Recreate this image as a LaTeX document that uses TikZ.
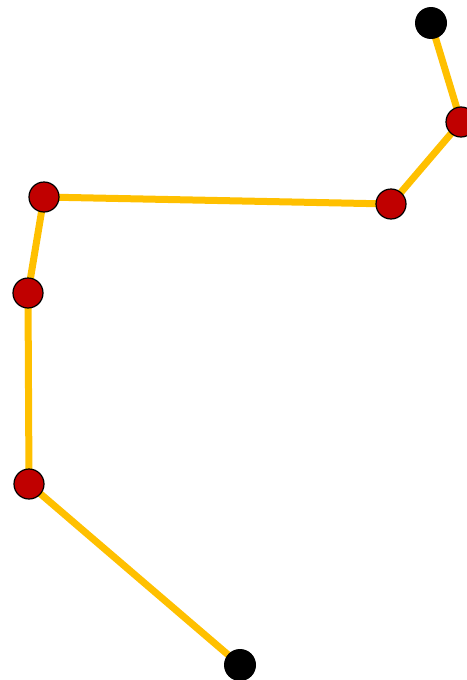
\documentclass[tikz,border=0pt]{standalone}
\usepackage{tikz}
\usetikzlibrary{backgrounds}
\definecolor{pathyellow}{HTML}{FFC000}
\definecolor{stopred}{HTML}{C00000}

\begin{document}
\begin{tikzpicture}[
    x=1pt, y=-1pt,
    endpoint/.style={circle, fill=black, minimum size=32pt, inner sep=0pt},
    waypoint/.style={circle, draw=black, line width=1.2pt, fill=stopred, minimum size=30pt, inner sep=0pt},
    route/.style={pathyellow, line width=7pt}
]

% Canvas
\useasboundingbox (0,0) rectangle (466,680);

% End points
\node[endpoint] (start) at (431, 23) {};
\node[endpoint] (goal) at (240, 665) {};

% Way points
\node[waypoint] (w1) at (461, 122) {};
\node[waypoint] (w2) at (391, 204) {};
\node[waypoint] (w3) at (44, 197) {};
\node[waypoint] (w4) at (28, 293) {};
\node[waypoint] (w5) at (29, 484) {};

% Route
\begin{scope}[on background layer]
\draw[route] (start.center) -- (w1.center) -- (w2.center) -- (w3.center)
    -- (w4.center) -- (w5.center) -- (goal.center);
\end{scope}

\end{tikzpicture}
\end{document}
